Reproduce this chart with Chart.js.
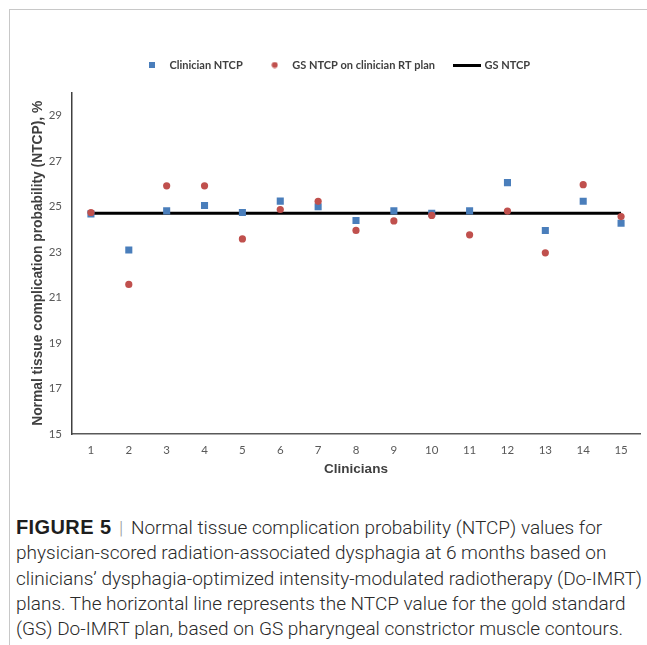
<!DOCTYPE html>
<html>
<head>
<meta charset="utf-8">
<script src="https://cdn.jsdelivr.net/npm/chart.js@4.4.0/dist/chart.umd.min.js"></script>
<style>
  html, body { margin: 0; padding: 0; background: #fff; overflow: hidden; }
  body { width: 647px; height: 645px; position: relative; }
  #frame { position: absolute; left: 9px; top: 9px; width: 700px; height: 700px;
           border-top: 1.5px solid #c8c8c8; border-left: 1.5px solid #c8c8c8; }
  #chart { position: absolute; left: 0; top: 0; }
  #caption { position: absolute; left: 16px; top: 515px; font-family: Roboto; font-weight: 300;
             font-size: 19px; line-height: 25.3px; color: #2a2a2a; white-space: nowrap; }
  #caption b { font-family: 'Liberation Sans'; font-size: 20px; letter-spacing: 0.4px; font-weight: 700; color: #1e1e1e; }
  #caption .bar { color: #9a9a9a; margin: 0 3px; }
</style>
</head>
<body>
<div id="frame"></div>
<canvas id="chart" width="647" height="481"></canvas>
<div id="caption">
  <b>FIGURE 5</b> <span class="bar">|</span> Normal tissue complication probability (NTCP) values for<br>
  physician-scored radiation-associated dysphagia at 6 months based on<br>
  clinicians’ dysphagia-optimized intensity-modulated radiotherapy (Do-IMRT)<br>
  plans. The horizontal line represents the NTCP value for the gold standard<br>
  (GS) Do-IMRT plan, based on GS pharyngeal constrictor muscle contours.
</div>
<script>
var docById = function (id) { return document.getElementById(id); };

// data
const clinicians = ['1', '2', '3', '4', '5', '6', '7', '8', '9', '10', '11', '12', '13', '14', '15'];
const clinicianNtcp = [24.67, 23.08, 24.8, 25.04, 24.73, 25.23, 24.98, 24.38, 24.8, 24.7, 24.8, 26.04, 23.94, 25.22, 24.26];
const gsOnClinicianPlan = [24.73, 21.57, 25.9, 25.9, 23.57, 24.86, 25.22, 23.94, 24.36, 24.6, 23.75, 24.79, 22.96, 25.95, 24.55];
const gsNtcp = 24.7;
const yTicks = [15, 17, 19, 21, 23, 25, 27, 29];

const blue = '#4a7ebb';
const red = '#c0504d';
const axisGrey = '#595959';

function makeMarker(w, h, draw) {
  const c = document.createElement('canvas');
  c.width = w;
  c.height = h;
  draw(c.getContext('2d'));
  return c;
}

// small legend swatches, drawn at their own size (indexed by dataset)
const legendMarkers = [
  makeMarker(6, 6, ctx => { ctx.fillStyle = blue; ctx.fillRect(0, 0, 6, 6); }),
  makeMarker(7, 7, ctx => {
    ctx.fillStyle = red;
    ctx.beginPath();
    ctx.arc(3.5, 3.5, 3, 0, 2 * Math.PI);
    ctx.fill();
  }),
  makeMarker(28, 3, ctx => { ctx.fillStyle = '#000'; ctx.fillRect(0, 0, 28, 3); })
];

new Chart(docById('chart'), {
  type: 'line',
  data: {
    labels: clinicians,
    datasets: [
      {
        label: 'Clinician NTCP',
        data: clinicianNtcp,
        showLine: false,
        pointStyle: 'rect',
        pointRadius: 5,
        pointHoverRadius: 5,
        pointBorderWidth: 0,
        backgroundColor: blue,
        borderColor: blue,
        order: 1
      },
      {
        label: 'GS NTCP on clinician RT plan',
        data: gsOnClinicianPlan,
        showLine: false,
        pointStyle: 'circle',
        pointRadius: 3.6,
        pointHoverRadius: 3.6,
        pointBorderWidth: 0,
        backgroundColor: red,
        borderColor: red,
        order: 0
      },
      {
        label: 'GS NTCP',
        data: clinicians.map(() => gsNtcp),
        borderColor: '#000',
        backgroundColor: '#000',
        borderWidth: 3,
        pointRadius: 0,
        order: 2
      }
    ]
  },
  options: {
    responsive: false,
    animation: false,
    layout: { padding: { top: 39.5, left: 30, right: 7, bottom: 0 } },
    scales: {
      x: {
        type: 'category',
        offset: true,
        grid: { display: false, drawTicks: false },
        border: { display: true, color: axisGrey, width: 1.5 },
        ticks: { color: axisGrey, padding: 9, font: { family: 'Lato', size: 11.5 } },
        afterFit: function (scale) {
          scale.height = 47;
        },
        title: {
          display: true,
          text: 'Clinicians',
          color: '#404040',
          font: { family: 'Liberation Sans', size: 13.5, weight: 'bold' },
          padding: { top: 4, bottom: 4 }
        }
      },
      y: {
        min: 15,
        max: 30,
        grid: { display: false, drawTicks: false },
        border: { display: true, color: '#404040', width: 1.5 },
        ticks: { color: axisGrey, padding: 10, font: { family: 'Lato', size: 11.5 } },
        afterBuildTicks: function (scale) {
          scale.ticks = yTicks.map(v => ({ value: v }));
        },
        afterFit: function (scale) {
          scale.width = 42;
        },
        title: {
          display: true,
          text: 'Normal tissue complication probability (NTCP), %',
          color: '#404040',
          font: { family: 'Liberation Sans', size: 13.8, weight: 'bold' },
          padding: { top: 0, bottom: 0 }
        }
      }
    },
    plugins: {
      legend: {
        position: 'top',
        weight: 2000,
        labels: {
          usePointStyle: true,
          pointStyleWidth: 24,
          padding: 20,
          color: '#404040',
          font: { family: 'Lato', size: 11, weight: 'bold' },
          sort: (a, b) => a.datasetIndex - b.datasetIndex,
          generateLabels: function (chart) {
            const items = Chart.defaults.plugins.legend.labels.generateLabels(chart);
            items.forEach(item => { item.pointStyle = legendMarkers[item.datasetIndex]; });
            return items;
          }
        }
      },
      // empty subtitle only keeps a gap between legend and plot
      subtitle: {
        display: true,
        text: '',
        font: { size: 1, lineHeight: 1 },
        padding: { top: 0, bottom: 11 }
      },
      tooltip: { enabled: false }
    }
  }
});
</script>
</body>
</html>
